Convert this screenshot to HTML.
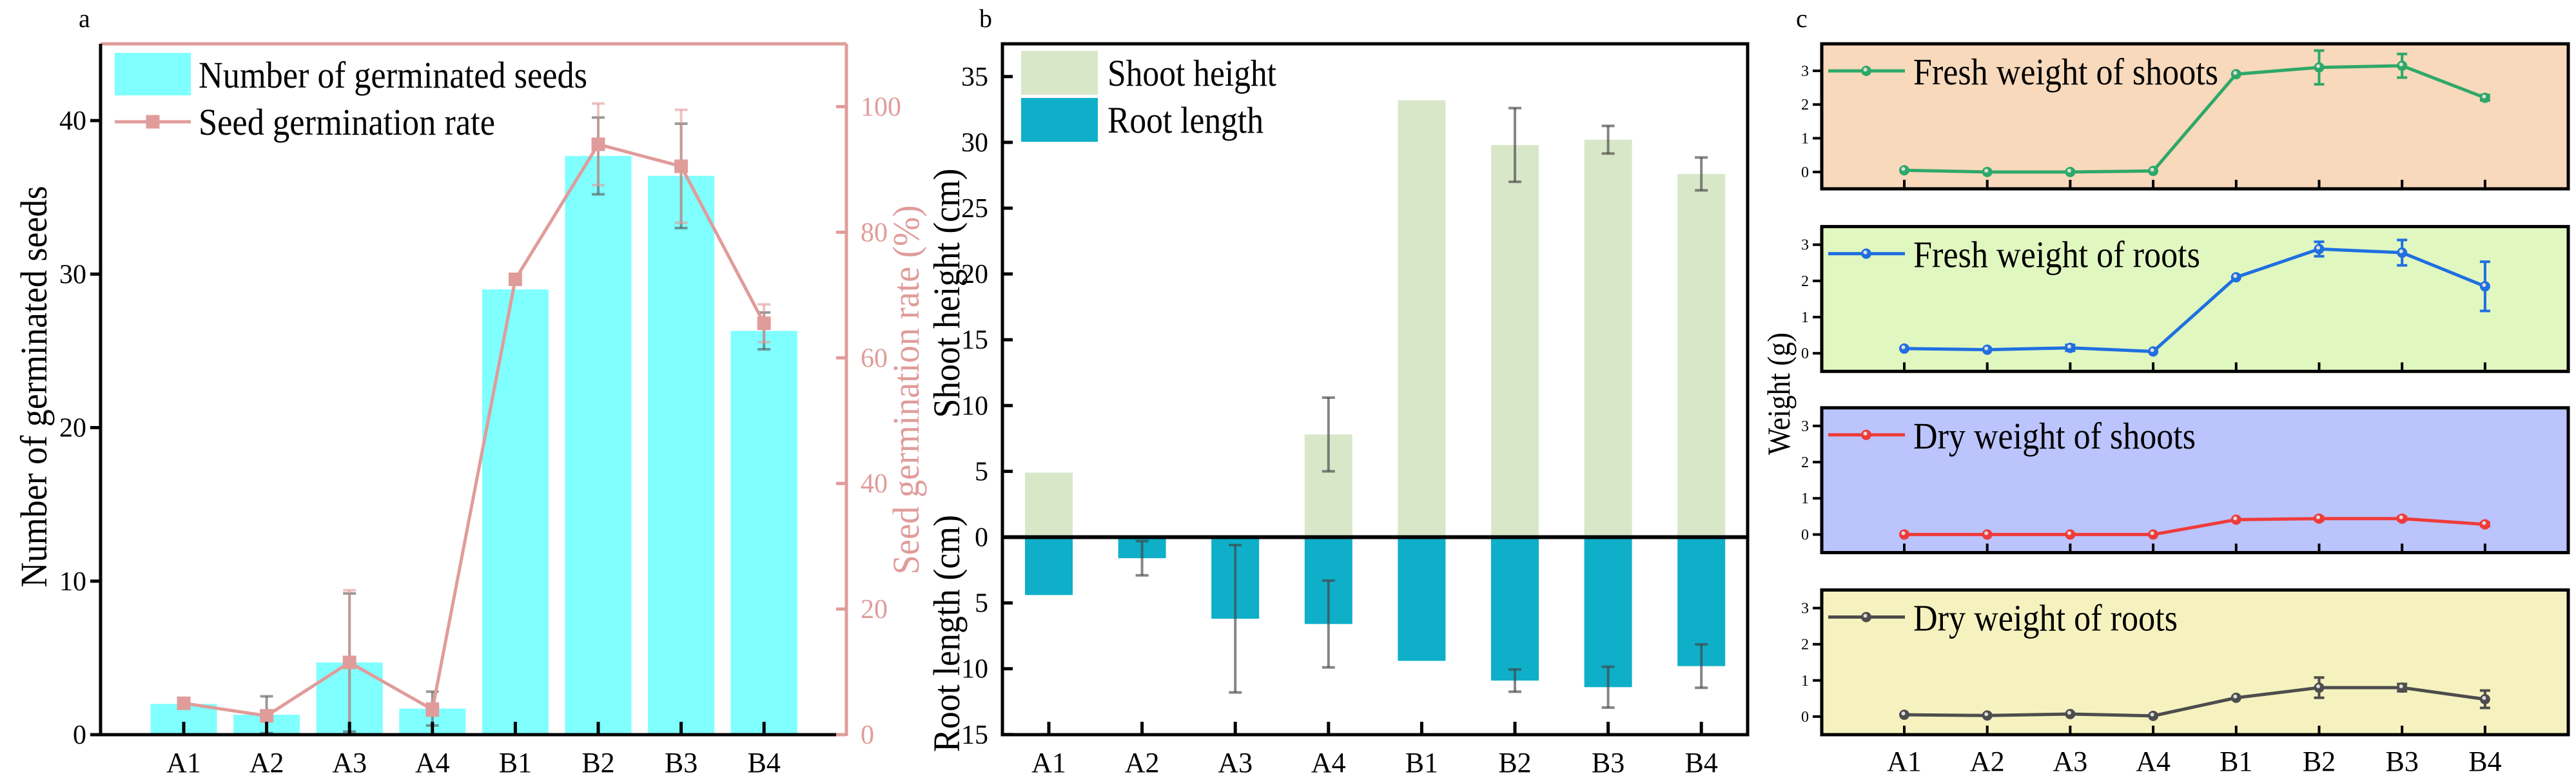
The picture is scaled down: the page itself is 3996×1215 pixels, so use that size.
<!DOCTYPE html>
<html><head><meta charset="utf-8"><style>
html,body{margin:0;padding:0;background:#fff;}
svg{display:block;font-family:"Liberation Serif",serif;}
</style></head><body>
<svg id="fig" width="3996" height="1215" viewBox="0 0 3996 1215" xmlns="http://www.w3.org/2000/svg"></svg>
<script>
const cats=["A1","A2","A3","A4","B1","B2","B3","B4"];
// panel a
const seedCount=[2,1.3,4.7,1.7,29,37.7,36.4,26.3];
const seedCountErr=[0,1.2,4.5,1.1,0,2.5,3.4,1.2];
const germRate=[5,3,11.5,4,72.5,94,90.5,65.5];
const germRateErr=[0,0.5,11.5,1,0,6.5,9,3];
const aLeftTicks=[0,10,20,30,40];
const aRightTicks=[0,20,40,60,80,100];
// panel b
const shootH=[4.9,0,0,7.8,33.2,29.8,30.2,27.6];
const shootErr=[0,0,0,2.8,0,2.8,1.05,1.25];
const rootL=[4.4,1.6,6.2,6.6,9.4,10.9,11.4,9.8];
const rootErr=[0,1.3,5.6,3.3,0,0.85,1.55,1.65];
const bUpTicks=[0,5,10,15,20,25,30,35];
const bDownTicks=[5,10,15];
// panel c
const freshShoot=[0.05,0,0,0.03,2.9,3.1,3.15,2.2];
const freshShootErr=[0,0,0,0,0,0.5,0.35,0.08];
const freshRoot=[0.13,0.1,0.15,0.05,2.1,2.88,2.78,1.85];
const freshRootErr=[0,0,0.08,0,0,0.2,0.35,0.68];
const dryShoot=[0,0,0,0,0.41,0.44,0.44,0.28];
const dryShootErr=[0,0,0,0,0,0.05,0.05,0.05];
const dryRoot=[0.05,0.03,0.07,0.02,0.52,0.8,0.8,0.48];
const dryRootErr=[0,0,0,0,0,0.28,0.1,0.24];
const cTicks=[0,1,2,3];

const NS="http://www.w3.org/2000/svg";
const svg=document.getElementById('fig');
function el(tag,attrs,parent,txt){const e=document.createElementNS(NS,tag);for(const k in attrs)e.setAttribute(k,attrs[k]);if(txt!==undefined)e.textContent=txt;(parent||svg).appendChild(e);return e;}
function fit(e,len){e.setAttribute('textLength',len);e.setAttribute('lengthAdjust','spacingAndGlyphs');}

// ---------- Panel a ----------
const gA=el('g',{});


const aL=156,aR=1313,aT=68,aB=1140;
const ayL=v=>aB-(v/45)*(aB-aT);
const ayR=v=>aB-(v/110)*(aB-aT);
const ax=i=>285+i*128.6;
let t=el('text',{x:122,y:42,'font-size':40},gA,'a');

cats.forEach((c,i)=>{
  const b=el('rect',{x:ax(i)-51.5,y:ayL(seedCount[i]),width:103,height:aB-ayL(seedCount[i]),fill:'#80ffff'},gA);
  
});
cats.forEach((c,i)=>{
  if(seedCountErr[i]>0){
    const g=el('g',{stroke:'#555','stroke-opacity':0.6,'stroke-width':4},gA);
    
    const y1=ayL(seedCount[i]+seedCountErr[i]),y2=ayL(Math.max(0,seedCount[i]-seedCountErr[i]));
    el('line',{x1:ax(i),x2:ax(i),y1:y1,y2:y2},g);
    el('line',{x1:ax(i)-10,x2:ax(i)+10,y1:y1,y2:y1},g);
    el('line',{x1:ax(i)-10,x2:ax(i)+10,y1:y2,y2:y2},g);
  }
});
let pts=cats.map((c,i)=>ax(i)+','+ayR(germRate[i])).join(' ');
let pl=el('polyline',{points:pts,fill:'none',stroke:'#e09c9a','stroke-width':5},gA);

cats.forEach((c,i)=>{
  if(germRateErr[i]>0){
    const g=el('g',{stroke:'#e09c9a','stroke-opacity':0.6,'stroke-width':4},gA);
    
    const y1=ayR(germRate[i]+germRateErr[i]),y2=ayR(germRate[i]-germRateErr[i]);
    el('line',{x1:ax(i),x2:ax(i),y1:y1,y2:y2},g);
    el('line',{x1:ax(i)-10,x2:ax(i)+10,y1:y1,y2:y1},g);
    el('line',{x1:ax(i)-10,x2:ax(i)+10,y1:y2,y2:y2},g);
  }
  const m=el('rect',{x:ax(i)-10.5,y:ayR(germRate[i])-10.5,width:21,height:21,fill:'#e09c9a'},gA);
  
});
// axes a
el('line',{x1:aL,x2:aR,y1:aT,y2:aT,stroke:'#e09c9a','stroke-width':5},gA);
el('line',{x1:aR,x2:aR,y1:aT,y2:aB+2,stroke:'#e09c9a','stroke-width':5},gA);
el('line',{x1:aL,x2:aL,y1:aT,y2:aB,stroke:'#000','stroke-width':5},gA);
el('line',{x1:aL-2,x2:aR-16,y1:aB,y2:aB,stroke:'#000','stroke-width':5},gA);
el('line',{x1:aR-16,x2:aR,y1:aB,y2:aB,stroke:'#e09c9a','stroke-width':5},gA);
aLeftTicks.forEach(v=>{
  el('line',{x1:aL-16,x2:aL,y1:ayL(v),y2:ayL(v),stroke:'#000','stroke-width':5},gA);
  const tt=el('text',{x:aL-22,y:ayL(v)+14,'font-size':42,'text-anchor':'end'},gA,v);
  
});
aRightTicks.forEach(v=>{
  el('line',{x1:aR-16,x2:aR,y1:ayR(v),y2:ayR(v),stroke:'#e09c9a','stroke-width':5},gA);
  const tt=el('text',{x:aR+22,y:ayR(v)+14,'font-size':42,fill:'#e09c9a'},gA,v);
  
});
cats.forEach((c,i)=>{
  el('line',{x1:ax(i),x2:ax(i),y1:aB-20,y2:aB,stroke:'#000','stroke-width':5},gA);
  const tt=el('text',{x:ax(i),y:1198,'font-size':44,'text-anchor':'middle'},gA,c);
  
});
t=el('text',{x:0,y:0,'font-size':58,'text-anchor':'middle',transform:'translate(72,600) rotate(-90)'},gA,'Number of germinated seeds');
fit(t,623);

t=el('text',{x:0,y:0,'font-size':58,'text-anchor':'middle',fill:'#e09c9a',transform:'translate(1425,605) rotate(-90)'},gA,'Seed germination rate (%)');
fit(t,573);

// legend a
let lg=el('g',{},gA);

el('rect',{x:178,y:82,width:118,height:66,fill:'#80ffff'},lg);
t=el('text',{x:308,y:136,'font-size':58},lg,'Number of germinated seeds');
fit(t,603);

el('line',{x1:178,x2:296,y1:189,y2:189,stroke:'#e09c9a','stroke-width':5},lg);
el('rect',{x:226.5,y:178.5,width:21,height:21,fill:'#e09c9a'},lg);
t=el('text',{x:308,y:209,'font-size':58},lg,'Seed germination rate');
fit(t,460);


// ---------- Panel b ----------
const gB=el('g',{});


const bL=1555,bR=2711,bT=68,bB=1140,bZ=833.5,bU=102.1/5;
const by=v=>bZ-v*bU;
const bx=i=>1627+i*144.6;
t=el('text',{x:1519,y:42,'font-size':40},gB,'b');

cats.forEach((c,i)=>{
  if(shootH[i]>0){const r=el('rect',{x:bx(i)-37,y:by(shootH[i]),width:74,height:shootH[i]*bU,fill:'#d9e7c9'},gB);
  }
  const r2=el('rect',{x:bx(i)-37,y:bZ,width:74,height:rootL[i]*bU,fill:'#0fafc9'},gB);
  
});
function bErr(i,v,e,sign,name){
  if(e<=0)return;
  const g=el('g',{stroke:'#444','stroke-opacity':0.65,'stroke-width':4},gB);
  
  const y1=by(sign*(v+e)),y2=by(sign*(v-e));
  el('line',{x1:bx(i),x2:bx(i),y1:y1,y2:y2},g);
  el('line',{x1:bx(i)-10,x2:bx(i)+10,y1:y1,y2:y1},g);
  el('line',{x1:bx(i)-10,x2:bx(i)+10,y1:y2,y2:y2},g);
}
cats.forEach((c,i)=>{bErr(i,shootH[i],shootErr[i],1,'error-bar-shoot-'+c);bErr(i,rootL[i],rootErr[i],-1,'error-bar-root-'+c);});
el('line',{x1:bL,x2:bR,y1:bZ,y2:bZ,stroke:'#000','stroke-width':6},gB);
el('rect',{x:bL,y:bT,width:bR-bL,height:bB-bT,fill:'none',stroke:'#000','stroke-width':5},gB);
bUpTicks.forEach(v=>{
  el('line',{x1:bL,x2:bL+16,y1:by(v),y2:by(v),stroke:'#000','stroke-width':5},gB);
  const tt=el('text',{x:1533,y:by(v)+14,'font-size':42,'text-anchor':'end'},gB,v);
  
});
bDownTicks.forEach(v=>{
  el('line',{x1:bL,x2:bL+16,y1:by(-v),y2:by(-v),stroke:'#000','stroke-width':5},gB);
  const tt=el('text',{x:1533,y:by(-v)+14,'font-size':42,'text-anchor':'end'},gB,v);
  
});
cats.forEach((c,i)=>{
  el('line',{x1:bx(i),x2:bx(i),y1:bB-20,y2:bB,stroke:'#000','stroke-width':5},gB);
  const tt=el('text',{x:bx(i),y:1198,'font-size':44,'text-anchor':'middle'},gB,c);
  
});
t=el('text',{x:0,y:0,'font-size':58,'text-anchor':'middle',transform:'translate(1488,455) rotate(-90)'},gB,'Shoot height (cm)');
fit(t,387);

t=el('text',{x:0,y:0,'font-size':58,'text-anchor':'middle',transform:'translate(1488,983) rotate(-90)'},gB,'Root length (cm)');
fit(t,368);

lg=el('g',{},gB);

el('rect',{x:1584,y:79,width:119,height:68,fill:'#d9e7c9'},lg);
el('rect',{x:1584,y:152,width:119,height:68,fill:'#0fafc9'},lg);
t=el('text',{x:1718,y:133,'font-size':58},lg,'Shoot height');
fit(t,262);

t=el('text',{x:1718,y:206,'font-size':58},lg,'Root length');
fit(t,242);


// ---------- Panel c ----------
const gC=el('g',{});


const cL=2826,cR=3984;
const cx=i=>2954+i*128.7;
t=el('text',{x:2786,y:42,'font-size':40},gC,'c');

const subs=[
 {name:'fresh-weight-shoots',label:'Fresh weight of shoots',len:473,vals:freshShoot,errs:freshShootErr,color:'#2ea868',bg:'#f8d9bb',top:68,bot:293,max:3.8},
 {name:'fresh-weight-roots',label:'Fresh weight of roots',len:445,vals:freshRoot,errs:freshRootErr,color:'#1f6fe0',bg:'#e1f7c0',top:351.6,bot:576.3,max:3.5},
 {name:'dry-weight-shoots',label:'Dry weight of shoots',len:438,vals:dryShoot,errs:dryShootErr,color:'#ef3b3b',bg:'#bbc4fc',top:632.8,bot:857.5,max:3.5},
 {name:'dry-weight-roots',label:'Dry weight of roots',len:410,vals:dryRoot,errs:dryRootErr,color:'#4d4d4d',bg:'#f6f2bf',top:915.5,bot:1140,max:3.5}
];
subs.forEach(s=>{
  const g=el('g',{},gC);
  
  
  const y=v=>s.bot-(v+0.5)/(s.max+0.5)*(s.bot-s.top);
  el('rect',{x:cL,y:s.top,width:cR-cL,height:s.bot-s.top,fill:s.bg},g);
  const p=el('polyline',{points:cats.map((c,i)=>cx(i)+','+y(s.vals[i])).join(' '),fill:'none',stroke:s.color,'stroke-width':5},g);
  
  cats.forEach((c,i)=>{
    if(s.errs[i]>0){
      const eg=el('g',{stroke:s.color,'stroke-width':4},g);
      
      const y1=y(s.vals[i]+s.errs[i]),y2=y(s.vals[i]-s.errs[i]);
      el('line',{x1:cx(i),x2:cx(i),y1:y1,y2:y2},eg);
      el('line',{x1:cx(i)-8,x2:cx(i)+8,y1:y1,y2:y1},eg);
      el('line',{x1:cx(i)-8,x2:cx(i)+8,y1:y2,y2:y2},eg);
    }
    const m=el('circle',{cx:cx(i),cy:y(s.vals[i]),r:8,fill:s.color},g);
    
    el('circle',{cx:cx(i)-1.5,cy:y(s.vals[i])-2,r:3,fill:'#ddd'},g);
  });
  el('rect',{x:cL,y:s.top,width:cR-cL,height:s.bot-s.top,fill:'none',stroke:'#000','stroke-width':5},g);
  cTicks.forEach(v=>{
    el('line',{x1:cL-14,x2:cL,y1:y(v),y2:y(v),stroke:'#000','stroke-width':4},g);
    const tt=el('text',{x:cL-20,y:y(v)+8,'font-size':24,'text-anchor':'end'},g,v);
    
  });
  cats.forEach((c,i)=>el('line',{x1:cx(i),x2:cx(i),y1:s.bot-14,y2:s.bot,stroke:'#000','stroke-width':4},g));
  const ly=s.top+42;
  const lgc=el('g',{},g);
  
  el('line',{x1:2836,x2:2955,y1:ly,y2:ly,stroke:s.color,'stroke-width':5},lgc);
  el('circle',{cx:2895,cy:ly,r:8,fill:s.color},lgc);
  el('circle',{cx:2893.5,cy:ly-2,r:3,fill:'#ddd'},lgc);
  const lt=el('text',{x:2968,y:s.top+63,'font-size':58},lgc,s.label);
  fit(lt,s.len);
  
});
cats.forEach((c,i)=>{
  const tt=el('text',{x:cx(i),y:1196,'font-size':44,'text-anchor':'middle'},gC,c);
  
});
t=el('text',{x:0,y:0,'font-size':50,'text-anchor':'middle',transform:'translate(2776,611) rotate(-90)'},gC,'Weight (g)');
fit(t,190);

</script>
</body></html>
